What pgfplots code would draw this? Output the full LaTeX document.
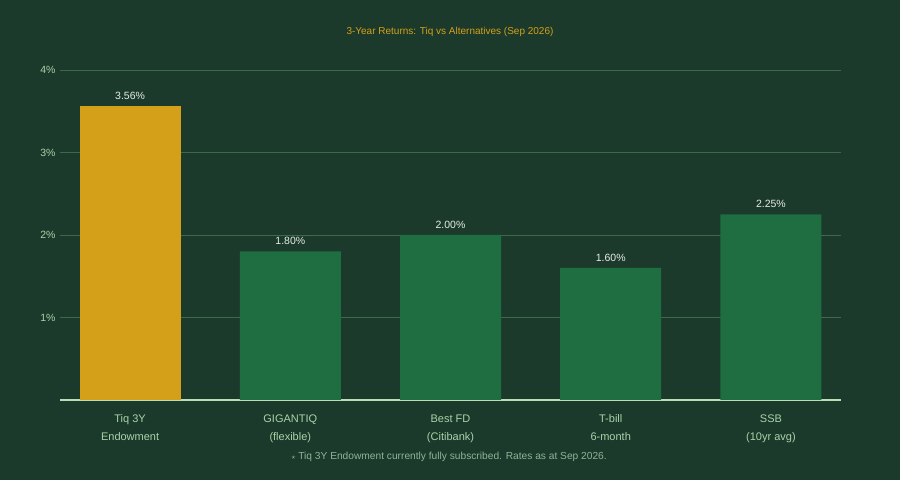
\documentclass[border=0pt]{standalone}
\usepackage{pgfplots}
\pgfplotsset{compat=1.18}
\usepackage{fontspec}
\setmainfont{Liberation Sans}

\definecolor{bg}{HTML}{1B3A2B}
\definecolor{gold}{HTML}{D4A01A}
\definecolor{barg}{HTML}{1E6E42}
\definecolor{gridc}{HTML}{3D6B4A}
\definecolor{axisc}{HTML}{B8E0B4}
\definecolor{tickc}{HTML}{A9D3A9}
\definecolor{valc}{HTML}{E6EEE6}
\definecolor{notec}{HTML}{8DB596}

\begin{document}
\begin{tikzpicture}[x=1bp,y=1bp]
\fill[bg] (0,0) rectangle (900,480);
\begin{axis}[
    at={(60bp,80bp)}, anchor=south west,
    scale only axis,
    width=781bp, height=330bp,
    xmin=-0.4375, xmax=4.4375,
    ymin=0, ymax=4,
    axis x line*=bottom, axis y line*=left,
    x axis line style={draw=axisc, line width=1.5bp, -},
    y axis line style={draw=none},
    major tick length=0pt,
    ytick={1,2,3,4},
    yticklabel={\pgfmathprintnumber{\tick}\%},
    yticklabel style={font=\fontsize{10.5bp}{12bp}\selectfont, text=tickc, xshift=-1bp},
    /pgf/number format/assume math mode=true,
    ymajorgrids,
    grid style={draw=gridc, line width=0.8bp},
    xtick={0,1,2,3,4},
    xticklabels={{Tiq 3Y\\Endowment},{GIGANTIQ\\(flexible)},{Best FD\\(Citibank)},{T-bill\\6-month},{SSB\\(10yr avg)}},
    xticklabel style={align=center, font=\fontsize{11bp}{18bp}\selectfont, text=tickc, yshift=-11bp},
    nodes near coords={\pgfmathprintnumber[fixed,fixed zerofill,precision=2]{\pgfplotspointmeta}\%},
    nodes near coords style={font=\fontsize{10.5bp}{12bp}\selectfont, text=valc, yshift=3bp},
    clip=false,
]
\addplot[ybar, bar width=101bp, bar shift=0pt, fill=gold, draw=none] coordinates {(0,3.56)};
\addplot[ybar, bar width=101bp, bar shift=0pt, fill=barg, draw=none] coordinates {(1,1.80) (2,2.00) (3,1.60) (4,2.25)};
\end{axis}
\node[text=gold, font=\fontsize{10bp}{11bp}\selectfont] at (450,448) {3-Year Returns: Tiq vs Alternatives (Sep 2026)};
\node[text=notec, font=\fontsize{10.2bp}{11bp}\selectfont] at (449,23) {{\fontsize{8bp}{9bp}\selectfont$\star$} Tiq 3Y Endowment currently fully subscribed. Rates as at Sep 2026.};
\end{tikzpicture}
\end{document}
